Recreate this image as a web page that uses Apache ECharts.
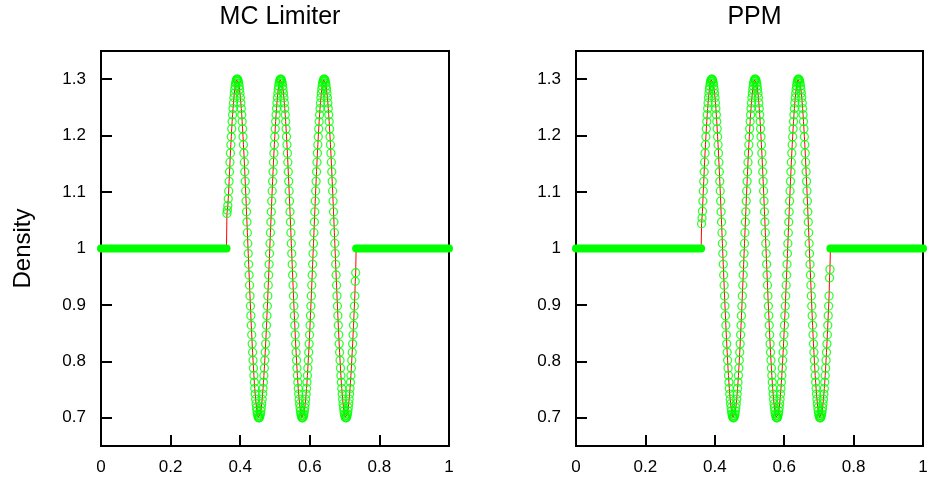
<!DOCTYPE html>
<html>
<head>
<meta charset="utf-8">
<script src="https://cdn.jsdelivr.net/npm/echarts@6/dist/echarts.min.js"></script>
<style>
  html, body { margin: 0; padding: 0; background: #fff; }
  #chart { width: 933px; height: 487px; }
</style>
</head>
<body>
<div id="chart"></div>
<script>
// ---- data ----
const panelTitles = ['MC Limiter', 'PPM'];
const xTicks = [0, 0.2, 0.4, 0.6, 0.8, 1];
const yTicks = [0.7, 0.8, 0.9, 1, 1.1, 1.2, 1.3];
const yName = 'Density';

// cell-centred samples of the wave region (uniform grid)
const waveX0 = 0.361875;
const waveDx = 0.00125;

// flat (rho = 1) stretches either side of the wave: [x, rho]
const flatLeft = [[0, 1], [0.360625, 1]];
const flatRight = [[0.733125, 1], [1, 1]];

// first samples of the wave (differ between schemes)
const mcHead = [1.062, 1.068, 1.076, 1.088];
const ppmHead = [1.044, 1.054, 1.066, 1.084];

// interior of the wave (common to both schemes)
const waveCore = [
  1.102,1.119,1.136,1.153,1.169,1.184,1.198,1.212,1.225,1.237,1.248,1.258,1.267,1.275,1.282,1.288,1.293,1.296,1.299,1.300,
  1.300,1.299,1.296,1.293,1.288,1.282,1.275,1.267,1.258,1.248,1.237,1.225,1.212,1.198,1.184,1.169,1.153,1.136,1.119,1.102,1.084,1.065,1.047,1.028,1.009,
  0.991,0.972,0.953,0.935,0.916,0.898,0.881,0.864,0.847,0.831,0.816,0.802,0.788,0.775,0.763,0.752,0.742,0.733,0.725,0.718,0.712,0.707,0.704,0.701,0.700,
  0.700,0.701,0.704,0.707,0.712,0.718,0.725,0.733,0.742,0.752,0.763,0.775,0.788,0.802,0.816,0.831,0.847,0.864,0.881,0.898,0.916,0.935,0.953,0.972,0.991,
  1.009,1.028,1.047,1.065,1.084,1.102,1.119,1.136,1.153,1.169,1.184,1.198,1.212,1.225,1.237,1.248,1.258,1.267,1.275,1.282,1.288,1.293,1.296,1.299,1.300,
  1.300,1.299,1.296,1.293,1.288,1.282,1.275,1.267,1.258,1.248,1.237,1.225,1.212,1.198,1.184,1.169,1.153,1.136,1.119,1.102,1.084,1.065,1.047,1.028,1.009,
  0.991,0.972,0.953,0.935,0.916,0.898,0.881,0.864,0.847,0.831,0.816,0.802,0.788,0.775,0.763,0.752,0.742,0.733,0.725,0.718,0.712,0.707,0.704,0.701,0.700,
  0.700,0.701,0.704,0.707,0.712,0.718,0.725,0.733,0.742,0.752,0.763,0.775,0.788,0.802,0.816,0.831,0.847,0.864,0.881,0.898,0.916,0.935,0.953,0.972,0.991,
  1.009,1.028,1.047,1.065,1.084,1.102,1.119,1.136,1.153,1.169,1.184,1.198,1.212,1.225,1.237,1.248,1.258,1.267,1.275,1.282,1.288,1.293,1.296,1.299,1.300,
  1.300,1.299,1.296,1.293,1.288,1.282,1.275,1.267,1.258,1.248,1.237,1.225,1.212,1.198,1.184,1.169,1.153,1.136,1.119,1.102,1.084,1.065,1.047,1.028,1.009,
  0.991,0.972,0.953,0.935,0.916,0.898,0.881,0.864,0.847,0.831,0.816,0.802,0.788,0.775,0.763,0.752,0.742,0.733,0.725,0.718,0.712,0.707,0.704,0.701,0.700,
  0.700,0.701,0.704,0.707,0.712,0.718,0.725,0.733,0.742,0.752,0.763,0.775,0.788,0.802,0.816,0.831,0.847,0.864,0.881,0.898,0.916
];

// last samples of the wave
const mcTail = [0.942, 0.957];
const ppmTail = [0.948, 0.963];

// ---- build chart ----
const FONT = 'Liberation Sans, Arial, sans-serif';
const panelWave = [
  mcHead.concat(waveCore, mcTail),
  ppmHead.concat(waveCore, ppmTail)
];

function toPoints(vals) {
  return vals.map((v, i) => [waveX0 + i * waveDx, v]);
}

const grids = [
  { left: 101, top: 51, width: 348, height: 395 },
  { left: 576, top: 51, width: 347, height: 395 }
];

const option = {
  animation: false,
  backgroundColor: '#fff',
  title: panelTitles.map((t, i) => ({
    text: t,
    left: grids[i].left + grids[i].width / 2,
    top: 0,
    textAlign: 'center',
    textStyle: { fontFamily: FONT, fontSize: 25, fontWeight: 'normal', color: '#000' }
  })),
  grid: grids.map(g => Object.assign({ show: true, borderColor: '#000', borderWidth: 2, containLabel: false }, g)),
  xAxis: grids.map((g, i) => ({
    type: 'value', gridIndex: i, min: 0, max: 1, interval: 0.2,
    axisLine: { show: true, onZero: false, lineStyle: { color: '#000', width: 2 } },
    axisTick: { show: true, inside: true, length: 11, lineStyle: { color: '#000', width: 2 } },
    axisLabel: { color: '#000', fontFamily: FONT, fontSize: 17, margin: 13,
                 formatter: v => String(+v.toFixed(1)) },
    splitLine: { show: false }
  })),
  yAxis: grids.map((g, i) => ({
    type: 'value', gridIndex: i, min: 0.65, max: 1.35,
    name: i === 0 ? yName : '',
    nameLocation: 'middle', nameGap: 66,
    nameTextStyle: { fontFamily: FONT, fontSize: 24, color: '#000' },
    axisLine: { show: true, onZero: false, lineStyle: { color: '#000', width: 2 } },
    axisTick: { show: true, inside: true, length: 11, customValues: yTicks, lineStyle: { color: '#000', width: 2 } },
    axisLabel: { color: '#000', fontFamily: FONT, fontSize: 17, margin: 15, customValues: yTicks,
                 formatter: v => String(+(+v).toFixed(1)) },
    splitLine: { show: false }
  })),
  series: []
};

panelWave.forEach((vals, i) => {
  const pts = toPoints(vals);
  // red connecting line (includes the flat stretches)
  option.series.push({
    type: 'line', xAxisIndex: i, yAxisIndex: i, z: 3,
    data: flatLeft.concat(pts, flatRight),
    showSymbol: false, symbol: 'none',
    lineStyle: { color: '#ff0000', width: 1 }
  });
  // flat stretches (dense overlapping markers appear as a solid band)
  [flatLeft, flatRight].forEach(seg => {
    option.series.push({
      type: 'line', xAxisIndex: i, yAxisIndex: i, z: 5, clip: false,
      data: seg, showSymbol: false, symbol: 'none',
      lineStyle: { color: '#00ff00', width: 8, cap: 'round' }
    });
  });
  // hollow green markers on the wave
  option.series.push({
    type: 'scatter', xAxisIndex: i, yAxisIndex: i, z: 4,
    data: pts, symbol: 'circle', symbolSize: 8,
    itemStyle: { color: 'rgba(0,0,0,0)', borderColor: '#00ff00', borderWidth: 1.3 }
  });
});

const chart = echarts.init(document.getElementById('chart'), null, { renderer: 'canvas' });
chart.setOption(option);
</script>
</body>
</html>
